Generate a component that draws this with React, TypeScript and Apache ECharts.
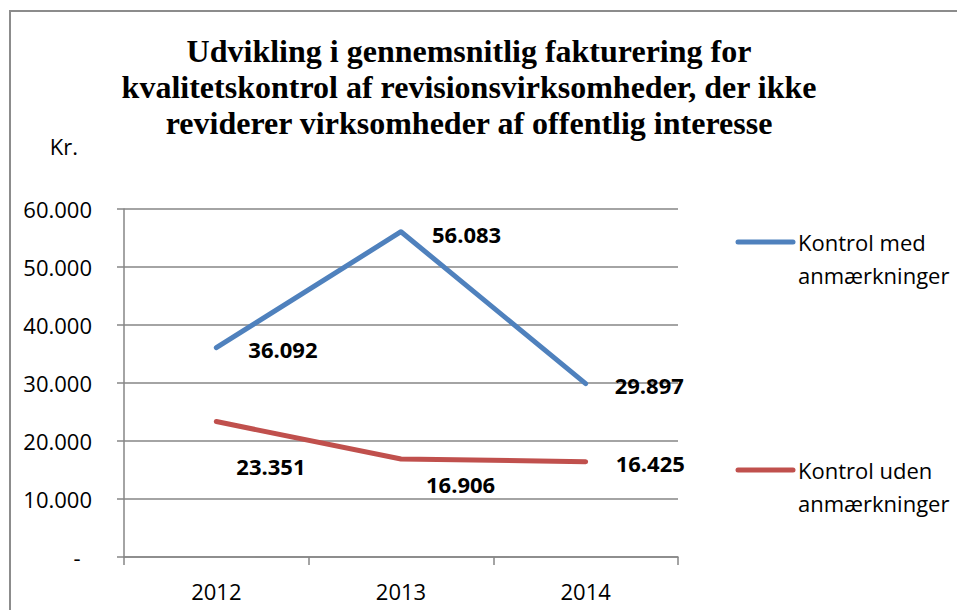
import React, { useEffect, useRef } from "react";
import * as echarts from "echarts";

const categories = ["2012", "2013", "2014"];
const seriesNames = ["Kontrol med\nanmærkninger", "Kontrol uden\nanmærkninger"];
const medValues = [36092, 56083, 29897];
const udenValues = [23351, 16906, 16425];
const titleText =
  "Udvikling i gennemsnitlig fakturering for\nkvalitetskontrol af revisionsvirksomheder, der ikke\nreviderer virksomheder af offentlig interesse";
const yAxisName = "Kr.";

const colors = ["#4F81BD", "#C0504D"];
const sans = "'Open Sans', 'Noto Sans', sans-serif";
const axisGrey = "#868686";

// label offsets (style only)
const medLabelOffsets = [[31, 1], [30, 2], [28, 1]];
const udenLabelOffsets = [[19, 44], [24, 25], [29, 1]];

const fmt = (v: number) =>
  v === 0 ? "-  " : String(Math.round(v)).replace(/\B(?=(\d{3})+(?!\d))/g, ".");

export default function App() {
  const ref = useRef<HTMLDivElement>(null);
  useEffect(() => {
    if (!ref.current) return;
    const chart = echarts.init(ref.current, null, { renderer: "svg" });
    const mkData = (vals: number[], offs: number[][]) =>
      vals.map((v, i) => ({
        value: v,
        label: { offset: offs[i] },
      }));
    const labelBase = {
      show: true,
      position: "right",
      distance: 0,
      fontFamily: sans,
      fontSize: 22,
      fontWeight: "bold",
      color: "#000",
      align: "left",
      verticalAlign: "middle",
      formatter: (p: any) => fmt(p.value),
    };
    const legendY = [242, 470];
    const graphic: any[] = [
      {
        type: "rect",
        x: 10,
        y: 11,
        z: -10,
        shape: { x: 0, y: 0, width: 980, height: 640 },
        style: { fill: "none", stroke: "#8c8c8c", lineWidth: 2 },
        silent: true,
      },
    ];
    seriesNames.forEach((name, i) => {
      graphic.push({
        type: "line",
        shape: { x1: 738, y1: legendY[i], x2: 793, y2: legendY[i] },
        style: { stroke: colors[i], lineWidth: 5, lineCap: "round" },
      });
      graphic.push({
        type: "text",
        x: 798,
        y: legendY[i] - 16.5,
        style: {
          text: name,
          fontFamily: sans,
          fontSize: 22,
          lineHeight: 33,
          fill: "#000",
          textAlign: "left",
          textVerticalAlign: "top",
        },
      });
    });
    chart.setOption({
      animation: false,
      backgroundColor: "#fff",
      title: {
        text: titleText,
        left: 469,
        top: 33,
        textAlign: "center",
        padding: 0,
        textStyle: {
          fontFamily: "'Liberation Serif', 'Times New Roman', serif",
          fontWeight: "bold",
          fontSize: 32,
          lineHeight: 36,
          color: "#000",
        },
      },
      grid: { left: 124, right: 279, top: 209, bottom: 53, containLabel: false },
      xAxis: {
        type: "category",
        data: categories,
        boundaryGap: true,
        axisLine: { show: true, lineStyle: { color: axisGrey, width: 1.5 } },
        axisTick: { show: true, length: 8, interval: 0, lineStyle: { color: axisGrey, width: 1.5 } },
        axisLabel: { margin: 23, fontFamily: sans, fontSize: 22, color: "#000" },
        splitLine: { show: false },
      },
      yAxis: {
        type: "value",
        min: 0,
        max: 60000,
        interval: 10000,
        name: yAxisName,
        nameLocation: "end",
        nameGap: 63,
        nameTextStyle: {
          fontFamily: sans,
          fontSize: 22,
          color: "#000",
          align: "right",
          verticalAlign: "middle",
          padding: [0, 46, 0, 0],
        },
        axisLine: { show: true, lineStyle: { color: axisGrey, width: 1.5 } },
        axisTick: { show: true, length: 7, lineStyle: { color: axisGrey, width: 1.5 } },
        axisLabel: { margin: 32, fontFamily: sans, fontSize: 22, color: "#000", formatter: fmt },
        splitLine: { show: true, lineStyle: { color: axisGrey, width: 1.5 } },
      },
      series: [
        {
          name: seriesNames[0],
          type: "line",
          data: mkData(medValues, medLabelOffsets),
          symbol: "circle",
          symbolSize: 2,
          itemStyle: { color: colors[0] },
          lineStyle: { color: colors[0], width: 5, cap: "round", join: "round" },
          label: labelBase,
          z: 3,
        },
        {
          name: seriesNames[1],
          type: "line",
          data: mkData(udenValues, udenLabelOffsets),
          symbol: "circle",
          symbolSize: 2,
          itemStyle: { color: colors[1] },
          lineStyle: { color: colors[1], width: 5, cap: "round", join: "round" },
          label: labelBase,
          z: 3,
        },
      ],
      graphic,
    });
    return () => chart.dispose();
  }, []);
  return (
    <div
      ref={ref}
      style={{ position: "fixed", left: 0, top: 0, width: 957, height: 610 }}
    />
  );
}
